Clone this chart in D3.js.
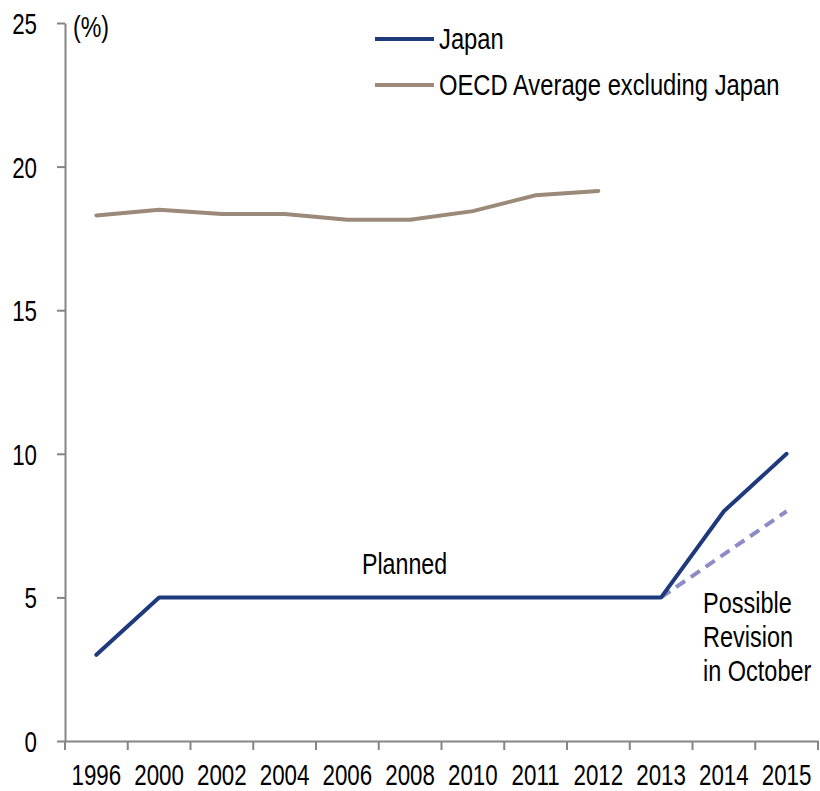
<!DOCTYPE html>
<html>
<head>
<meta charset="utf-8">
<script src="https://cdn.jsdelivr.net/npm/d3@7"></script>
<style>
  html, body { margin: 0; padding: 0; background: #fff; }
  svg text { font-family: "Liberation Sans Narrow", "Arial Narrow", "Liberation Sans", Arial, sans-serif; fill: #000; }
</style>
</head>
<body>
<div id="chart"></div>
<script>
// categories and series
const years = ["1996", "2000", "2002", "2004", "2006", "2008", "2010", "2011", "2012", "2013", "2014", "2015"];
const japan = [3, 5, 5, 5, 5, 5, 5, 5, 5, 5, 8, 10];
const oecd = [18.3, 18.5, 18.35, 18.35, 18.15, 18.15, 18.45, 19.0, 19.15, null, null, null];
const revisionYears = ["2013", "2014", "2015"];
const revision = [5, 6.5, 8];
const yTicks = [0, 5, 10, 15, 20, 25];

const width = 820, height = 791;
const plotLeft = 65, plotRight = 818, plotTop = 23, plotBottom = 741;
const fontSize = 29;

const svg = d3.select('#chart').append('svg')
    .attr('width', width)
    .attr('height', height);

const x = d3.scaleBand().domain(years).range([plotLeft, plotRight]);
const y = d3.scaleLinear().domain([0, 25]).range([plotBottom, plotTop]);
const cx = d => x(d) + x.bandwidth() / 2;

// no narrow font installed, so squeeze the regular one horizontally
function squeeze(sel, k) {
    sel.each(function() {
        const t = d3.select(this);
        const tx = +t.attr('x') || 0, ty = +t.attr('y') || 0;
        t.attr('x', null).attr('y', null)
         .attr('transform', `translate(${tx},${ty}) scale(${k},1)`);
    });
}

// y axis
const yAxis = svg.append('g')
    .attr('transform', `translate(${plotLeft},0)`)
    .call(d3.axisLeft(y).tickValues(yTicks).tickSize(8).tickPadding(20).tickSizeOuter(0));
yAxis.select('.domain').attr('stroke', '#858585').attr('stroke-width', 2);
yAxis.selectAll('.tick line').attr('stroke', '#858585').attr('stroke-width', 2);
yAxis.selectAll('.tick text').attr('font-size', fontSize).attr('dy', '0.36em').call(squeeze, 0.77);

// x axis: ticks on band boundaries
const xAxis = svg.append('g')
    .attr('transform', `translate(0,${plotBottom})`)
    .call(d3.axisBottom(x).tickSize(0).tickPadding(23).tickSizeOuter(0));
xAxis.select('.domain').attr('stroke', '#858585').attr('stroke-width', 2);
xAxis.selectAll('.tick text').attr('font-size', fontSize).call(squeeze, 0.77);
const bounds = years.map(d => x(d)).concat([plotRight]);
svg.append('g').selectAll('line')
    .data(bounds)
    .join('line')
    .attr('x1', d => d).attr('x2', d => d)
    .attr('y1', plotBottom).attr('y2', plotBottom + 9)
    .attr('stroke', '#858585').attr('stroke-width', 2);

// unit label
svg.append('text').attr('x', 73).attr('y', 37).attr('font-size', fontSize).text('(%)').call(squeeze, 0.8);

// lines
const line = d3.line()
    .defined(d => d[1] != null)
    .x(d => cx(d[0]))
    .y(d => y(d[1]));

svg.append('path')
    .datum(years.map((d, i) => [d, oecd[i]]))
    .attr('d', line)
    .attr('fill', 'none')
    .attr('stroke', '#9b8979')
    .attr('stroke-width', 4)
    .attr('stroke-linecap', 'round');

svg.append('path')
    .datum(revisionYears.map((d, i) => [d, revision[i]]))
    .attr('d', line)
    .attr('fill', 'none')
    .attr('stroke', '#8d8bc6')
    .attr('stroke-width', 4)
    .attr('stroke-dasharray', '11,7');

svg.append('path')
    .datum(years.map((d, i) => [d, japan[i]]))
    .attr('d', line)
    .attr('fill', 'none')
    .attr('stroke', '#1f3a7c')
    .attr('stroke-width', 4)
    .attr('stroke-linecap', 'round')
    .attr('stroke-linejoin', 'round');

// legend
const legend = [
    { name: 'Japan', color: '#1f3a7c', y: 39 },
    { name: 'OECD Average excluding Japan', color: '#9b8979', y: 85 }
];
const lg = svg.append('g').selectAll('g').data(legend).join('g');
lg.append('line')
    .attr('x1', 375).attr('x2', 434)
    .attr('y1', d => d.y).attr('y2', d => d.y)
    .attr('stroke', d => d.color).attr('stroke-width', 4);
lg.append('text')
    .attr('x', 439).attr('y', d => d.y)
    .attr('dy', '0.35em')
    .attr('font-size', fontSize)
    .text(d => d.name)
    .call(squeeze, 0.82);

// annotations
svg.append('text').attr('x', 362).attr('y', 574)
    .attr('font-size', fontSize).text('Planned').call(squeeze, 0.8);

const note = ['Possible', 'Revision', 'in October'];
svg.append('g').selectAll('text').data(note).join('text')
    .attr('x', 703)
    .attr('y', (d, i) => 613 + i * 34)
    .attr('font-size', fontSize)
    .text(d => d)
    .call(squeeze, 0.81);
</script>
</body>
</html>
